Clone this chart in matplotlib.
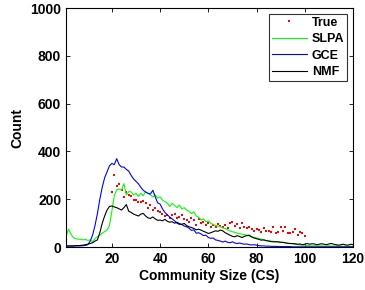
import numpy as np
import matplotlib
matplotlib.use("Agg")
import matplotlib.pyplot as plt

plt.rcParams['font.family'] = ['Liberation Sans', 'DejaVu Sans']
plt.rcParams['font.weight'] = 'bold'

# community sizes
x_lines = list(range(1, 121))
x_true = list(range(20, 101))

true_vals = [231, 301, 255, 263, 238, 211, 231, 218, 213, 199, 197, 190, 190, 194, 185,
             162, 176, 155, 162, 151, 148, 140, 130, 134, 120, 134, 138, 120, 125, 134,
             116, 113, 106, 120, 113, 92, 117, 99, 106, 92, 99, 85, 92, 82, 96,
             89, 85, 92, 80, 99, 103, 89, 96, 78, 102, 85, 78, 82, 75, 68,
             75, 71, 64, 78, 66, 68, 64, 82, 57, 64, 85, 68, 85, 57, 60,
             64, 75, 50, 64, 57, 46]

slpa = [45, 75, 55, 40, 35, 33, 33, 30, 32, 28, 30, 22, 35, 43, 50, 58, 65, 71, 90, 150,
        215, 240, 243, 238, 265, 218, 232, 231, 218, 225, 212, 225, 215, 231, 225, 218, 210, 218, 205, 210,
        197, 190, 185, 170, 183, 175, 165, 176, 160, 165, 155, 150, 140, 148, 130, 125, 113, 118, 106, 110,
        99, 95, 90, 88, 85, 80, 78, 72, 68, 64, 62, 58, 56, 54, 52, 50, 46, 44, 40, 38,
        36, 33, 30, 28, 27, 25, 24, 23, 22, 20, 19, 17, 15, 15, 13, 12, 10, 9, 8, 8,
        6, 6, 5, 5, 6, 5, 5, 4, 5, 5, 4, 4, 5, 4, 4, 3, 4, 4, 3, 3]

gce = [4, 4, 4, 4, 5, 5, 5, 6, 7, 10, 25, 50, 90, 140, 200, 250, 290, 315, 340, 350,
       345, 370, 345, 335, 335, 325, 318, 300, 285, 275, 265, 250, 238, 230, 225, 222, 238, 210, 185, 180,
       160, 145, 135, 126, 118, 110, 100, 95, 95, 88, 85, 79, 70, 72, 58, 60, 55, 48, 50, 40,
       37, 38, 30, 28, 25, 21, 25, 20, 18, 22, 17, 15, 17, 14, 12, 13, 10, 9, 10, 8,
       6, 5, 5, 4, 4, 3, 3, 3, 2, 2, 2, 2, 2, 2, 1, 1, 1, 1, 1, 1,
       1, 1, 1, 1, 1, 1, 1, 1, 1, 1, 1, 1, 1, 1, 1, 1, 1, 1, 1, 1]

nmf = [5, 5, 5, 5, 6, 6, 7, 8, 10, 12, 15, 18, 25, 30, 60, 100, 130, 155, 170, 172,
       168, 165, 160, 155, 165, 178, 150, 145, 138, 134, 130, 138, 141, 130, 122, 120, 126, 118, 112, 113,
       110, 116, 108, 104, 106, 100, 104, 98, 95, 99, 90, 85, 82, 78, 72, 75, 71, 66, 62, 57,
       60, 64, 68, 66, 71, 68, 60, 55, 50, 45, 43, 48, 44, 40, 45, 48, 50, 42, 38, 35,
       32, 29, 30, 27, 25, 23, 22, 22, 22, 20, 20, 18, 16, 15, 15, 14, 12, 13, 10, 12,
       15, 12, 14, 13, 10, 12, 14, 12, 10, 13, 15, 12, 10, 8, 10, 12, 9, 8, 12, 10]

fig = plt.figure(figsize=(3.65, 2.9), dpi=100)
ax = fig.add_axes([0.181, 0.148, 0.786, 0.824])

ax.plot(x_true, true_vals, linestyle='none', marker='s', color='#ff0000',
        markersize=2.0, markeredgewidth=0, label='True')
ax.plot(x_lines, slpa, color='#00ff00', lw=0.8, label='SLPA')
ax.plot(x_lines, gce, color='#0000ff', lw=0.8, label='GCE')
ax.plot(x_lines, nmf, color='#000000', lw=0.8, label='NMF')

ax.set_xlim(1, 120)
ax.set_ylim(0, 1000)
ax.set_xticks([20, 40, 60, 80, 100, 120])
ax.set_yticks([0, 200, 400, 600, 800, 1000])
ax.tick_params(direction='in', top=True, right=True, labelsize=10, length=3, width=0.6)
for lab in ax.get_xticklabels() + ax.get_yticklabels():
    lab.set_fontweight('bold')
for s in ax.spines.values():
    s.set_linewidth(0.8)

ax.set_xlabel('Community Size (CS)', fontsize=10, fontweight='bold', labelpad=2)
ax.set_ylabel('Count', fontsize=10, fontweight='bold', labelpad=4)

leg = ax.legend(loc='upper right', frameon=True, fancybox=False, numpoints=1,
                edgecolor='black', borderpad=0.25, labelspacing=0.35, handlelength=2.8,
                handletextpad=0.4, borderaxespad=0.45,
                prop={'weight': 'bold', 'size': 9})
leg.get_frame().set_linewidth(0.8)

fig.savefig('out.png', dpi=100)
